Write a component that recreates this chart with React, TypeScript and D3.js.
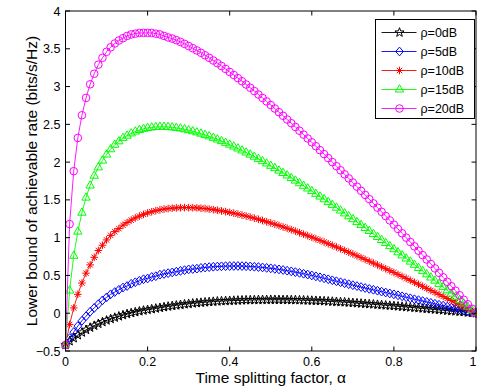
import React from 'react';
import * as d3 from 'd3';

// time splitting factor grid, 0..1 step 0.01
const alpha = d3.range(0, 101).map(i => i / 100);

const xTicks = [0, 0.2, 0.4, 0.6, 0.8, 1];
const xTickLabels = ['0', '0.2', '0.4', '0.6', '0.8', '1'];
const yTicks = [-0.5, 0, 0.5, 1, 1.5, 2, 2.5, 3, 3.5, 4];
const yTickLabels = ['\u22120.5', '0', '0.5', '1', '1.5', '2', '2.5', '3', '3.5', '4'];

const seriesNames = ['\u03c1=0dB', '\u03c1=5dB', '\u03c1=10dB', '\u03c1=15dB', '\u03c1=20dB'];

const rho0 = [
  -0.42, -0.37, -0.33, -0.29, -0.255, -0.22, -0.19, -0.165, -0.14, -0.117,
  -0.095, -0.076, -0.058, -0.041, -0.025, -0.01, 0.003, 0.015, 0.026, 0.036,
  0.045, 0.054, 0.063, 0.072, 0.081, 0.089, 0.097, 0.104, 0.111, 0.118,
  0.124, 0.13, 0.135, 0.14, 0.145, 0.149, 0.153, 0.157, 0.16, 0.163,
  0.165, 0.167, 0.169, 0.171, 0.173, 0.174, 0.175, 0.176, 0.177, 0.177,
  0.178, 0.178, 0.177, 0.177, 0.176, 0.175, 0.174, 0.173, 0.171, 0.169,
  0.167, 0.165, 0.163, 0.16, 0.157, 0.154, 0.151, 0.148, 0.145, 0.141,
  0.137, 0.133, 0.129, 0.125, 0.121, 0.117, 0.113, 0.109, 0.104, 0.1,
  0.096, 0.091, 0.087, 0.082, 0.077, 0.073, 0.068, 0.063, 0.058, 0.054,
  0.049, 0.044, 0.039, 0.034, 0.029, 0.025, 0.02, 0.015, 0.01, 0.005,
  0,
];

const rho5 = [
  -0.42, -0.33, -0.25, -0.17, -0.1, -0.04, 0.02, 0.07, 0.12, 0.17,
  0.21, 0.25, 0.28, 0.31, 0.34, 0.36, 0.39, 0.41, 0.43, 0.45,
  0.46, 0.48, 0.49, 0.51, 0.52, 0.53, 0.54, 0.55, 0.56, 0.57,
  0.58, 0.585, 0.59, 0.6, 0.605, 0.61, 0.615, 0.618, 0.621, 0.623,
  0.624, 0.625, 0.625, 0.624, 0.622, 0.619, 0.615, 0.611, 0.606, 0.6,
  0.594, 0.587, 0.58, 0.572, 0.563, 0.554, 0.544, 0.534, 0.523, 0.512,
  0.5, 0.488, 0.475, 0.462, 0.449, 0.436, 0.423, 0.41, 0.397, 0.384,
  0.371, 0.359, 0.346, 0.334, 0.322, 0.31, 0.298, 0.286, 0.274, 0.262,
  0.25, 0.237, 0.224, 0.211, 0.198, 0.185, 0.173, 0.161, 0.149, 0.137,
  0.125, 0.112, 0.1, 0.087, 0.075, 0.062, 0.05, 0.037, 0.025, 0.012,
  0,
];

const rho10 = [
  -0.42, -0.15, 0.07, 0.25, 0.4, 0.53, 0.64, 0.74, 0.83, 0.9,
  0.97, 1.03, 1.08, 1.12, 1.165, 1.2, 1.233, 1.261, 1.286, 1.308,
  1.327, 1.343, 1.357, 1.368, 1.378, 1.385, 1.391, 1.394, 1.397, 1.398,
  1.398, 1.396, 1.394, 1.39, 1.385, 1.378, 1.371, 1.363, 1.354, 1.345,
  1.335, 1.324, 1.312, 1.299, 1.286, 1.272, 1.258, 1.243, 1.227, 1.211,
  1.195, 1.178, 1.16, 1.142, 1.124, 1.105, 1.086, 1.066, 1.046, 1.026,
  1.006, 0.985, 0.964, 0.942, 0.92, 0.898, 0.876, 0.853, 0.83, 0.807,
  0.784, 0.76, 0.736, 0.712, 0.688, 0.664, 0.639, 0.614, 0.589, 0.564,
  0.539, 0.513, 0.487, 0.461, 0.435, 0.409, 0.383, 0.356, 0.329, 0.302,
  0.276, 0.249, 0.222, 0.195, 0.168, 0.14, 0.112, 0.084, 0.056, 0.028,
  0,
];

const rho15 = [
  -0.42, 0.3, 0.76, 1.08, 1.33, 1.53, 1.69, 1.82, 1.93, 2.02,
  2.1, 2.17, 2.23, 2.275, 2.32, 2.35, 2.38, 2.405, 2.425, 2.44,
  2.452, 2.459, 2.465, 2.467, 2.468, 2.465, 2.46, 2.453, 2.445, 2.434,
  2.422, 2.408, 2.393, 2.377, 2.36, 2.341, 2.321, 2.3, 2.278, 2.255,
  2.231, 2.206, 2.18, 2.154, 2.127, 2.099, 2.071, 2.042, 2.012, 1.982,
  1.951, 1.92, 1.888, 1.856, 1.823, 1.789, 1.755, 1.721, 1.686, 1.651,
  1.616, 1.58, 1.544, 1.508, 1.471, 1.434, 1.397, 1.359, 1.321, 1.283,
  1.245, 1.206, 1.167, 1.128, 1.089, 1.049, 1.009, 0.969, 0.929, 0.888,
  0.847, 0.806, 0.765, 0.724, 0.683, 0.641, 0.599, 0.557, 0.515, 0.473,
  0.431, 0.388, 0.345, 0.302, 0.259, 0.217, 0.174, 0.13, 0.087, 0.043,
  0,
];

const rho20 = [
  -0.42, 1.18, 1.88, 2.32, 2.62, 2.85, 3.03, 3.17, 3.29, 3.38,
  3.46, 3.52, 3.57, 3.61, 3.64, 3.67, 3.69, 3.7, 3.71, 3.71,
  3.71, 3.71, 3.7, 3.69, 3.67, 3.65, 3.635, 3.614, 3.591, 3.565,
  3.537, 3.508, 3.478, 3.447, 3.414, 3.38, 3.345, 3.309, 3.272, 3.233,
  3.193, 3.153, 3.112, 3.07, 3.027, 2.984, 2.94, 2.895, 2.849, 2.803,
  2.756, 2.709, 2.661, 2.613, 2.564, 2.515, 2.465, 2.415, 2.364, 2.313,
  2.262, 2.21, 2.158, 2.106, 2.053, 2.0, 1.946, 1.892, 1.838, 1.784,
  1.73, 1.675, 1.62, 1.565, 1.51, 1.454, 1.398, 1.342, 1.286, 1.229,
  1.172, 1.115, 1.058, 1.0, 0.943, 0.885, 0.827, 0.769, 0.711, 0.652,
  0.593, 0.534, 0.475, 0.416, 0.357, 0.298, 0.238, 0.179, 0.119, 0.06,
  0,
];

const seriesValues = [rho0, rho5, rho10, rho15, rho20];
const seriesColors = ['#000000', '#0000ff', '#ff0000', '#00ff00', '#ff00ff'];

// marker shapes (MATLAB p, d, *, ^, o)
const starPath = (() => {
  const pts: [number, number][] = [];
  for (let i = 0; i < 10; i++) {
    const r = i % 2 === 0 ? 4.8 : 2.0;
    const a = -Math.PI / 2 + (i * Math.PI) / 5;
    pts.push([r * Math.cos(a), r * Math.sin(a)]);
  }
  return 'M' + pts.map(p => p.join(',')).join('L') + 'Z';
})();
const markerPaths = [
  starPath,
  'M0,-4.4L3.8,0L0,4.4L-3.8,0Z',
  'M-3.8,0L3.8,0M0,-3.8L0,3.8M-2.7,-2.7L2.7,2.7M-2.7,2.7L2.7,-2.7',
  'M0,-4.8L4.2,2.5L-4.2,2.5Z',
  d3.symbol(d3.symbolCircle, Math.PI * 3.8 * 3.8)()!,
];

const W = 477;
const H = 387;
const margin = { top: 11, right: 1, bottom: 36, left: 65.5 };
const font = '"Liberation Sans", Arial, Helvetica, sans-serif';

export default function App() {
  const x = d3.scaleLinear().domain([0, 1]).range([margin.left, W - margin.right]);
  const y = d3.scaleLinear().domain([-0.5, 4]).range([H - margin.bottom, margin.top]);
  const line = d3.line<[number, number]>().x(d => x(d[0])).y(d => y(d[1]));
  const [x0, x1] = x.range();
  const [y0, y1] = y.range();
  const tick = 4.5;

  const legend = { x: 375.5, y: 19.5, w: 99, h: 99, row: 19 };

  return (
    <svg width={W} height={H} style={{ position: 'absolute', left: 0, top: 0, background: '#fff' }}
      fontFamily={font}>
      <rect x={0} y={0} width={W} height={H} fill="#fff" />
      {seriesValues.map((vals, s) => {
        const pts = vals.map((v, i) => [alpha[i], v] as [number, number]);
        return (
          <g key={s}>
            <path d={line(pts)!} fill="none" stroke={seriesColors[s]} strokeWidth={0.9} />
            {pts.map((p, i) => (
              <path key={i} d={markerPaths[s]} transform={`translate(${x(p[0])},${y(p[1])})`}
                fill="none" stroke={seriesColors[s]} strokeWidth={1} />
            ))}
          </g>
        );
      })}
      {/* axes box */}
      <rect x={x0} y={y1} width={x1 - x0} height={y0 - y1} fill="none" stroke="#000" strokeWidth={1} />
      {xTicks.map((t, i) => (
        <g key={'xt' + i}>
          <line x1={x(t)} x2={x(t)} y1={y0} y2={y0 - tick} stroke="#000" />
          <line x1={x(t)} x2={x(t)} y1={y1} y2={y1 + tick} stroke="#000" />
          <text x={i === xTicks.length - 1 ? W - 0.5 : x(t)} y={y0 + 15}
            textAnchor={i === xTicks.length - 1 ? 'end' : 'middle'} fontSize={12.5}>{xTickLabels[i]}</text>
        </g>
      ))}
      {yTicks.map((t, i) => (
        <g key={'yt' + i}>
          <line x1={x0} x2={x0 + tick} y1={y(t)} y2={y(t)} stroke="#000" />
          <line x1={x1} x2={x1 - tick} y1={y(t)} y2={y(t)} stroke="#000" />
          <text x={x0 - 5} y={y(t) + 4.5} textAnchor="end" fontSize={12.5}>{yTickLabels[i]}</text>
        </g>
      ))}
      <text x={(x0 + x1) / 2} y={383} textAnchor="middle" fontSize={15.5}>Time splitting factor, {'\u03b1'}</text>
      <text transform={`translate(37,${(y0 + y1) / 2}) rotate(-90)`} textAnchor="middle" fontSize={15.5}>
        Lower bound of achievable rate (bits/s/Hz)
      </text>
      {/* legend */}
      <rect x={legend.x} y={legend.y} width={legend.w} height={legend.h} fill="#fff" stroke="#000" strokeWidth={1} />
      {seriesNames.map((name, s) => {
        const cy = legend.y + 13 + s * legend.row;
        return (
          <g key={'lg' + s}>
            <line x1={legend.x + 6} x2={legend.x + 41} y1={cy} y2={cy} stroke={seriesColors[s]} strokeWidth={0.9} />
            <path d={markerPaths[s]} transform={`translate(${legend.x + 24},${cy})`} fill="none"
              stroke={seriesColors[s]} strokeWidth={1} />
            <text x={legend.x + 45} y={cy + 4.5} fontSize={12.5}>{name}</text>
          </g>
        );
      })}
    </svg>
  );
}
